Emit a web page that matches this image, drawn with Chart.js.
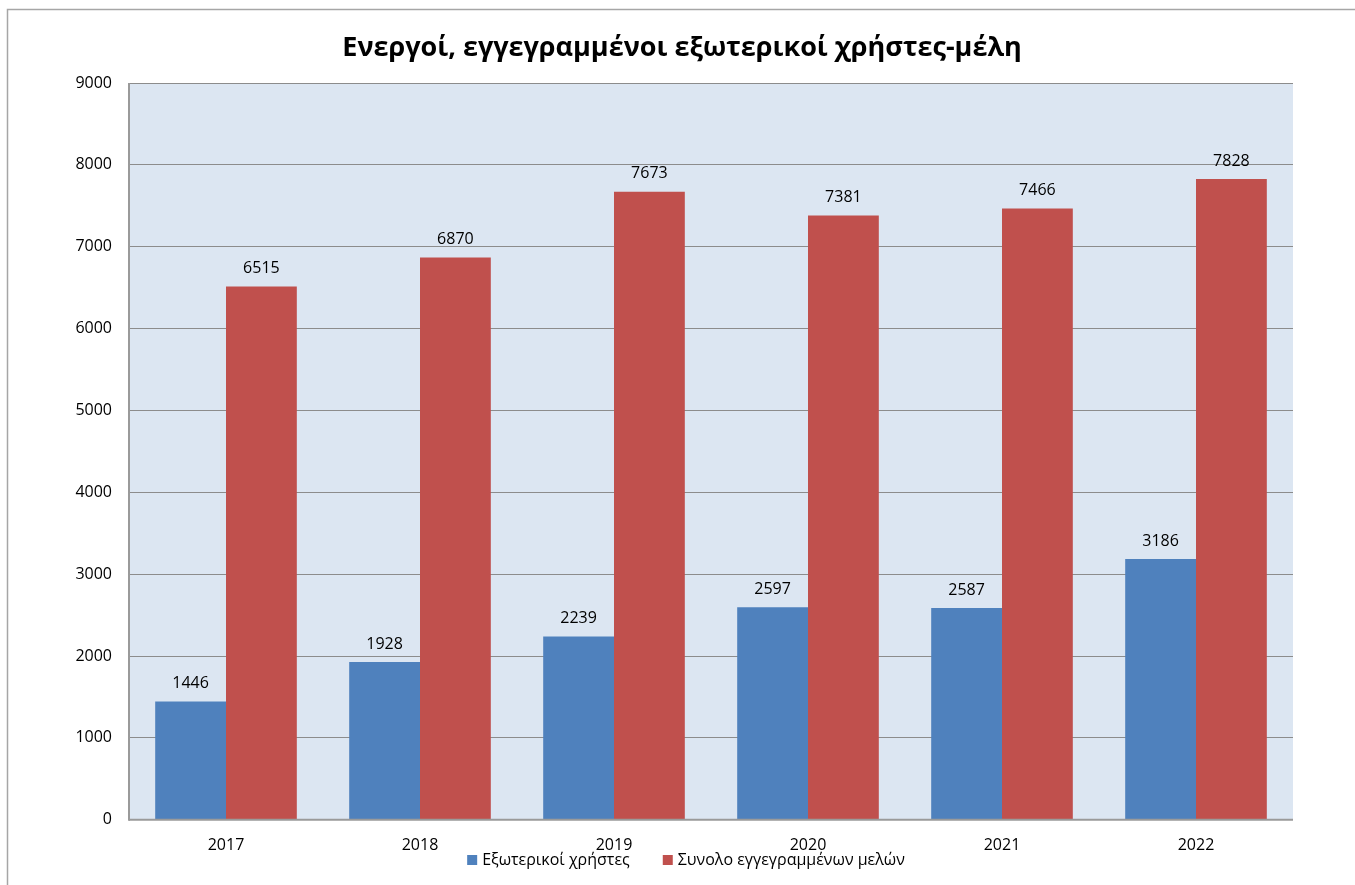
<!DOCTYPE html>
<html>
<head>
<meta charset="utf-8">
<script src="https://cdn.jsdelivr.net/npm/chart.js@4.4.1/dist/chart.umd.min.js"></script>
<style>
html,body{margin:0;padding:0;background:#fff;}
#wrap{position:relative;width:1355px;height:885px;}
</style>
</head>
<body>
<div id="wrap"><canvas id="c" width="1355" height="885"></canvas></div>
<script>
const title = 'Ενεργοί, εγγεγραμμένοι εξωτερικοί χρήστες-μέλη';
const categories = ['2017', '2018', '2019', '2020', '2021', '2022'];
const seriesNames = ['Εξωτερικοί χρήστες', 'Συνολο εγγεγραμμένων μελών'];
const externalUsers = [1446, 1928, 2239, 2597, 2587, 3186];
const totalMembers = [6515, 6870, 7673, 7381, 7466, 7828];
const yTicks = [0, 1000, 2000, 3000, 4000, 5000, 6000, 7000, 8000, 9000];

const FONT = '"Open Sans", "Noto Sans", sans-serif';

const bgPlugin = {
  id: 'bgPlugin',
  beforeDraw(chart) {
    const ctx = chart.ctx, a = chart.chartArea;
    ctx.save();
    ctx.fillStyle = '#ffffff';
    ctx.fillRect(0, 0, chart.width, chart.height);
    ctx.strokeStyle = '#a6a6a6';
    ctx.lineWidth = 1.5;
    ctx.beginPath();
    ctx.moveTo(7.5, chart.height);
    ctx.lineTo(7.5, 9.5);
    ctx.lineTo(chart.width, 9.5);
    ctx.stroke();
    ctx.fillStyle = '#dce6f2';
    ctx.fillRect(a.left, a.top, a.right - a.left, a.bottom - a.top);
    ctx.restore();
  },
  afterDraw(chart) {
    const ctx = chart.ctx, a = chart.chartArea;
    ctx.save();
    ctx.strokeStyle = '#9a9a9a';
    ctx.lineWidth = 2;
    ctx.beginPath();
    ctx.moveTo(a.left, a.bottom + 1);
    ctx.lineTo(a.left, a.top);
    ctx.stroke();
    ctx.beginPath();
    ctx.moveTo(a.left, a.bottom);
    ctx.lineTo(a.right, a.bottom);
    ctx.stroke();

    // legend
    ctx.font = '16px ' + FONT;
    ctx.textBaseline = 'middle';
    ctx.textAlign = 'left';
    const colors = chart.data.datasets.map(d => d.backgroundColor);
    const box = 10, gap = 5, between = 33, cy = 860, centerX = 686;
    const widths = seriesNames.map(t => box + gap + ctx.measureText(t).width);
    const total = widths.reduce((s, w) => s + w, 0) + between * (seriesNames.length - 1);
    let x = centerX - total / 2;
    seriesNames.forEach((t, i) => {
      ctx.fillStyle = colors[i];
      ctx.fillRect(x, cy - box / 2, box, box);
      ctx.fillStyle = '#000';
      ctx.fillText(t, x + box + gap, cy);
      x += widths[i] + between;
    });
    ctx.restore();
  }
};

const labelPlugin = {
  id: 'labelPlugin',
  afterDatasetsDraw(chart) {
    const ctx = chart.ctx;
    ctx.save();
    ctx.font = '16px ' + FONT;
    ctx.fillStyle = '#000';
    ctx.textAlign = 'center';
    ctx.textBaseline = 'middle';
    chart.data.datasets.forEach((ds, di) => {
      const meta = chart.getDatasetMeta(di);
      meta.data.forEach((bar, i) => {
        ctx.fillText(String(ds.data[i]), bar.x, bar.y - 18);
      });
    });
    ctx.restore();
  }
};

new Chart(document.getElementById('c'), {
  type: 'bar',
  data: {
    labels: categories,
    datasets: [
      { label: seriesNames[0], data: externalUsers, backgroundColor: '#4f81bd', borderWidth: 0 },
      { label: seriesNames[1], data: totalMembers, backgroundColor: '#c0504d', borderWidth: 0 }
    ]
  },
  options: {
    responsive: false,
    animation: false,
    devicePixelRatio: 1,
    layout: { padding: { left: 71, right: 62, top: 0, bottom: 14 } },
    datasets: { bar: { categoryPercentage: 0.73, barPercentage: 1.0 } },
    plugins: {
      title: {
        display: true,
        text: title,
        color: '#000',
        font: { family: FONT, size: 27, weight: 'bold', lineHeight: 1.2 },
        padding: { top: 32, bottom: 18.6 }
      },
      legend: { display: false },
      tooltip: { enabled: false }
    },
    scales: {
      x: {
        grid: { display: false, drawTicks: false },
        border: { display: false },
        ticks: { color: '#000', font: { family: FONT, size: 16, lineHeight: 1.2 }, padding: 16, maxRotation: 0 }
      },
      y: {
        min: 0,
        max: 9000,
        afterBuildTicks(scale) { scale.ticks = yTicks.map(v => ({ value: v })); },
        grid: { color: '#8c8c8c', lineWidth: 1, drawTicks: false },
        border: { display: false },
        ticks: { color: '#000', font: { family: FONT, size: 16 }, padding: 17, callback: v => String(v) },
        afterFit(scale) { scale.width = 58; }
      }
    }
  },
  plugins: [bgPlugin, labelPlugin]
});
</script>
</body>
</html>
